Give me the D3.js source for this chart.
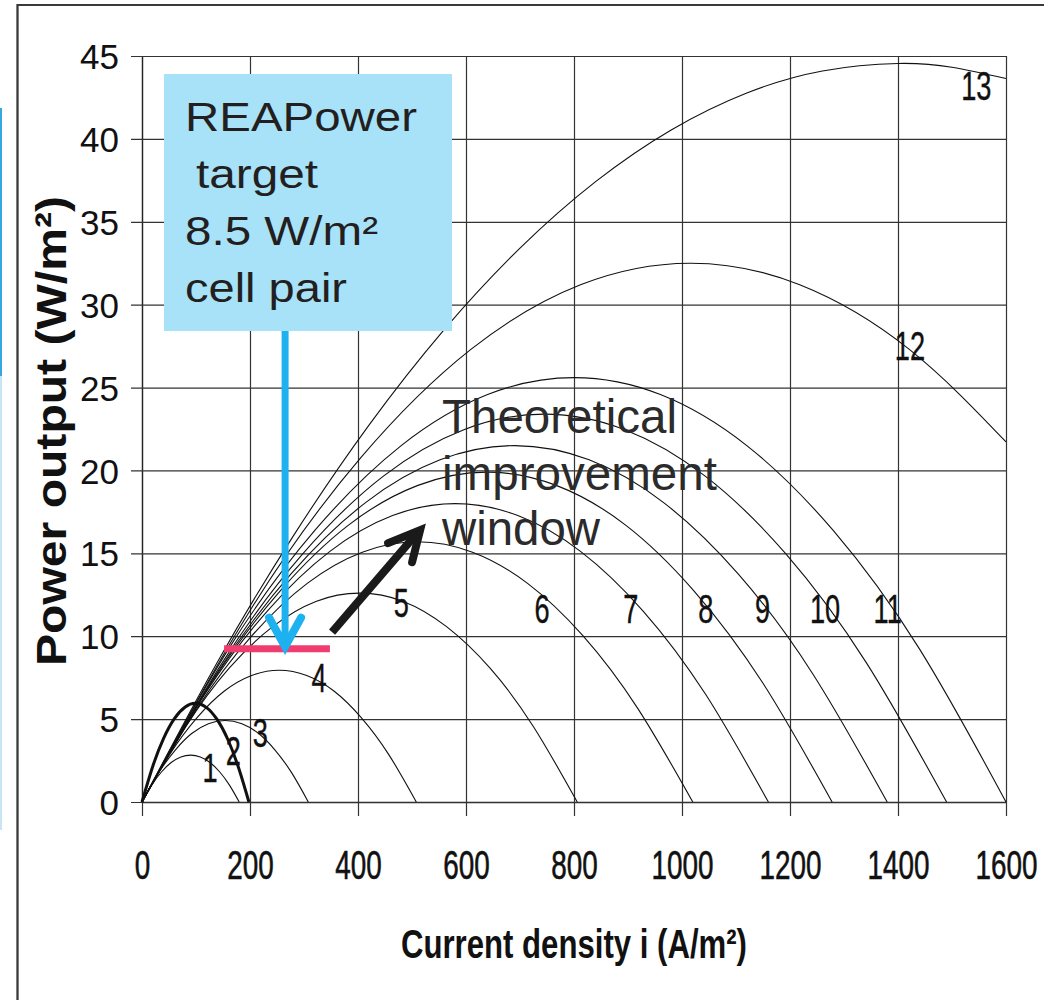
<!DOCTYPE html>
<html><head><meta charset="utf-8">
<script src="https://cdn.jsdelivr.net/npm/d3@7"></script>
<style>html,body{margin:0;padding:0;background:#fff}svg{display:block}</style>
</head><body>
<svg id="chart" width="1046" height="1000"></svg>
<script>
// ---------------- data ----------------
const xTicks = [0,200,400,600,800,1000,1200,1400,1600];
const yTicks = [0,5,10,15,20,25,30,35,40,45];
const curveNames = ["1","2","3","4","5","6","7","8","9","10","11","12","13"];

const c1_i  = [0,18,36,54,72,90,108,126,144,162,180];
const c1_P  = [0,1.02,1.81,2.38,2.72,2.83,2.72,2.38,1.81,1.02,0];
const c2_i  = [0,20,40,60,80,99,119,139,159,179,198];
const c2_P  = [0,2.16,3.84,5.03,5.73,5.95,5.71,4.98,3.77,2.05,0];
const c3_i  = [0,31,62,92,123,154,185,216,246,277,308];
const c3_P  = [0,1.77,3.15,4.13,4.72,4.92,4.72,4.13,3.15,1.77,0];
const c4_i  = [0,51,102,152,203,254,305,356,406,457,508];
const c4_P  = [0,2.86,5.09,6.68,7.63,7.95,7.63,6.68,5.09,2.86,0];
const c5_i  = [0,81,161,242,322,403,484,564,645,725,806];
const c5_P  = [0,4.54,8.06,10.58,12.10,12.6,12.10,10.58,8.06,4.54,0];
const c6_i  = [0,102,204,306,408,510,612,714,816,918,1020];
const c6_P  = [0,5.65,10.05,13.19,15.07,15.7,15.07,13.19,10.05,5.65,0];
const c7_i  = [0,116,232,348,464,580,696,812,928,1044,1160];
const c7_P  = [0,6.48,11.52,15.12,17.28,18.0,17.28,15.12,11.52,6.48,0];
const c8_i  = [0,128,256,383,511,639,767,895,1022,1150,1278];
const c8_P  = [0,7.16,12.74,16.72,19.10,19.9,19.10,16.72,12.74,7.16,0];
const c9_i  = [0,138,276,414,552,690,828,966,1104,1242,1380];
const c9_P  = [0,7.74,13.76,18.06,20.64,21.5,20.64,18.06,13.76,7.74,0];
const c10_i = [0,149,298,447,596,745,894,1043,1192,1341,1490];
const c10_P = [0,8.42,14.98,19.66,22.46,23.4,22.46,19.66,14.98,8.42,0];
const c11_i = [0,160,320,480,640,800,960,1120,1280,1440,1600];
const c11_P = [0,9.22,16.38,21.50,24.58,25.6,24.58,21.50,16.38,9.22,0];
const c12_i = [0,203,406,609,812,1015,1218,1421,1600];
const c12_P = [0,11.70,20.80,27.30,31.20,32.5,31.20,27.30,21.72];
const c13_i = [0,140,280,420,560,700,840,980,1120,1260,1400,1500,1600];
const c13_P = [0,8.46,16.04,22.72,28.51,33.41,37.42,40.54,42.77,44.10,44.55,44.32,43.64];

// curve label anchors (data units: current density, power)
const label_i = [126,169,219,328,480,741,905,1044,1149,1265,1381,1422,1545];
const label_P = [1.21,2.23,3.32,6.64,11.16,10.8,10.8,10.8,10.8,10.8,10.8,26.66,42.35];

// annotation values
const targetLevel = 9.25;            // W/m2, pink target line
const targetRange = [152,348];       // A/m2 extent of the pink line
const targetArrowI = 265;            // A/m2 of the blue arrow
const windowArrowFrom = [352,10.25]; // black arrow start (i,P)
const windowArrowTo   = [515,16.4];  // black arrow tip (i,P)

const boxLines = ["REAPower"," target","8.5 W/m\u00b2","cell pair"];
const windowLines = ["Theoretical","improvement","window"];

// ---------------- drawing ----------------
const svg = d3.select("#chart");
const FONT = "'Liberation Sans', Arial, Helvetica, sans-serif";

const x = d3.scaleLinear().domain([0,1600]).range([142,1006]);
const y = d3.scaleLinear().domain([0,45]).range([802,56]);

// page frame
svg.append("line").attr("x1",17.5).attr("y1",4).attr("x2",17.5).attr("y2",1000)
  .attr("stroke","#3a3a3a").attr("stroke-width",2.3);
svg.append("line").attr("x1",17).attr("y1",5).attr("x2",1044).attr("y2",5)
  .attr("stroke","#3a3a3a").attr("stroke-width",2);
svg.append("line").attr("x1",1).attr("y1",108).attr("x2",1).attr("y2",376)
  .attr("stroke","#35a8e0").attr("stroke-width",2);
svg.append("line").attr("x1",1).attr("y1",376).attr("x2",1).attr("y2",830)
  .attr("stroke","#c6e6f6").attr("stroke-width",2);

// x axis with grid
const gx = svg.append("g").attr("transform",`translate(0,${y(0)})`)
  .call(d3.axisBottom(x).tickValues(xTicks).tickFormat(d3.format("d")).tickSizeOuter(0));
gx.select(".domain").attr("stroke","#222").attr("stroke-width",1.3);
gx.selectAll(".tick line").attr("y1",14).attr("y2",y(45)-y(0))
  .attr("stroke","#333").attr("stroke-width",1.2);
gx.selectAll(".tick text").attr("y",null).attr("dy",null)
  .attr("transform","translate(0,77) scale(0.68,1)")
  .attr("font-family",FONT).attr("font-size",41).attr("fill","#111")
  .attr("stroke","#111").attr("stroke-width",0.6);

// y axis with grid
const gy = svg.append("g").attr("transform",`translate(${x(0)},0)`)
  .call(d3.axisLeft(y).tickValues(yTicks).tickFormat(d3.format("d")).tickSizeOuter(0));
gy.select(".domain").attr("stroke","#222").attr("stroke-width",1.3);
gy.selectAll(".tick line").attr("x1",-11).attr("x2",x(1600)-x(0))
  .attr("stroke","#333").attr("stroke-width",1.2);
gy.selectAll(".tick text").attr("x",-23).attr("dy","0.36em")
  .attr("font-family",FONT).attr("font-size",35).attr("fill","#111");

// curves
const curveI = [c1_i,c2_i,c3_i,c4_i,c5_i,c6_i,c7_i,c8_i,c9_i,c10_i,c11_i,c12_i,c13_i];
const curveP = [c1_P,c2_P,c3_P,c4_P,c5_P,c6_P,c7_P,c8_P,c9_P,c10_P,c11_P,c12_P,c13_P];
const series = curveNames.map((n,k)=>({name:n, pts:curveI[k].map((v,j)=>[v,curveP[k][j]])}));
const line = d3.line().x(d=>x(d[0])).y(d=>y(d[1])).curve(d3.curveNatural);
svg.append("g").selectAll("path").data(series).join("path")
  .attr("d",d=>line(d.pts)).attr("fill","none").attr("stroke","#111")
  .attr("stroke-width",d=>d.name==="2"?3:1.1);

// curve labels
svg.append("g").selectAll("text").data(curveNames).join("text")
  .attr("transform",(d,k)=>`translate(${x(label_i[k])},${y(label_P[k])}) scale(0.68,1)`)
  .attr("text-anchor","middle").attr("font-family",FONT).attr("font-size",40).attr("fill","#111")
  .attr("stroke","#111").attr("stroke-width",0.4).text(d=>d);

// blue box
svg.append("rect").attr("x",164).attr("y",74).attr("width",288).attr("height",257).attr("fill","#a8e2f8");
const boxW = [232,122,193,162], boxX=[185,196,185,185], boxY=[131,188,245,302];
svg.append("g").selectAll("text").data(boxLines).join("text")
  .attr("x",(d,k)=>boxX[k]).attr("y",(d,k)=>boxY[k])
  .attr("font-family",FONT).attr("font-size",40).attr("fill","#231f20")
  .attr("textLength",(d,k)=>boxW[k]).attr("lengthAdjust","spacingAndGlyphs")
  .text(d=>d.trim());

// pink target line
svg.append("line").attr("x1",x(targetRange[0])).attr("x2",x(targetRange[1]))
  .attr("y1",y(targetLevel)).attr("y2",y(targetLevel))
  .attr("stroke","#f03c6e").attr("stroke-width",7);

// blue arrow
const bx = x(targetArrowI), tipY = y(targetLevel)-2;
svg.append("line").attr("x1",bx).attr("x2",bx).attr("y1",331).attr("y2",tipY-3)
  .attr("stroke","#1db1ef").attr("stroke-width",7);
svg.append("path").attr("d",`M${bx-16},${tipY-29} L${bx},${tipY} L${bx+16},${tipY-29}`)
  .attr("fill","none").attr("stroke","#1db1ef").attr("stroke-width",8)
  .attr("stroke-linecap","round").attr("stroke-linejoin","miter");

// black arrow
const ax0 = x(windowArrowFrom[0]), ay0 = y(windowArrowFrom[1]);
const ax1 = x(windowArrowTo[0]), ay1 = y(windowArrowTo[1]);
svg.append("line").attr("x1",ax0).attr("y1",ay0).attr("x2",ax1-3).attr("y2",ay1+3)
  .attr("stroke","#1a1a1a").attr("stroke-width",8);
svg.append("path").attr("d",`M${ax1-32},${ay1+13} L${ax1},${ay1} L${ax1-8},${ay1+32}`)
  .attr("fill","none").attr("stroke","#1a1a1a").attr("stroke-width",8)
  .attr("stroke-linejoin","miter").attr("stroke-linecap","round");

// theoretical window text
const wW=[235,275,158], wY=[433,490,545];
svg.append("g").selectAll("text").data(windowLines).join("text")
  .attr("x",442).attr("y",(d,k)=>wY[k])
  .attr("font-family",FONT).attr("font-size",48).attr("fill","#2b2b2b")
  .attr("textLength",(d,k)=>wW[k]).attr("lengthAdjust","spacingAndGlyphs").text(d=>d);

// axis titles
svg.append("text").attr("x",401).attr("y",958)
  .attr("font-family",FONT).attr("font-size",40).attr("font-weight","bold").attr("fill","#111")
  .attr("textLength",346).attr("lengthAdjust","spacingAndGlyphs")
  .text("Current density i (A/m\u00b2)");
svg.append("text").attr("transform","translate(66,666) rotate(-90)")
  .attr("font-family",FONT).attr("font-size",43).attr("font-weight","bold").attr("fill","#111")
  .attr("textLength",470).attr("lengthAdjust","spacingAndGlyphs")
  .text("Power output (W/m\u00b2)");
</script>
</body></html>
